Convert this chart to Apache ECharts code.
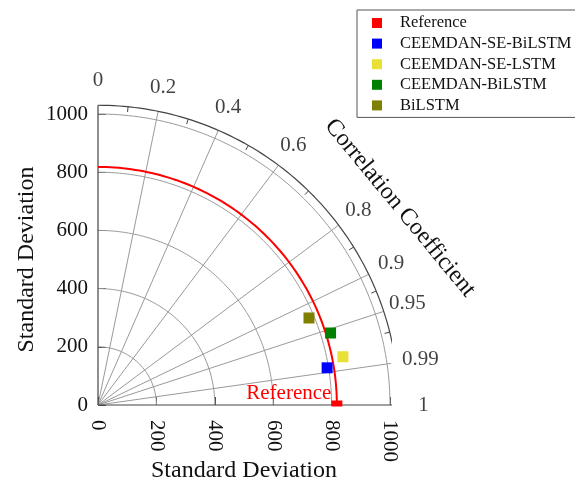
<!DOCTYPE html>
<html>
<head>
<meta charset="utf-8">
<title>Taylor diagram</title>
<script src="https://cdn.jsdelivr.net/npm/echarts@6/dist/echarts.min.js"></script>
<style>
  html, body { margin: 0; padding: 0; background: #fff; }
  #chart { width: 575px; height: 481px; }
</style>
</head>
<body>
<div id="chart"></div>
<script>
// model results
const modelNames = ['Reference', 'CEEMDAN-SE-BiLSTM', 'CEEMDAN-SE-LSTM', 'CEEMDAN-BiLSTM', 'BiLSTM']
const stdDevs = [818, 795, 855, 834, 782]
const corrCoefs = [1, 0.987, 0.981, 0.955, 0.924]
const modelColors = ['#ff0000', '#0000ff', '#e8e034', '#008000', '#808000']

// axes
const stdTicks = [200, 400, 600, 800, 1000]
const corrLabels = [0, 0.2, 0.4, 0.6, 0.8, 0.9, 0.95, 0.99, 1]
const corrGrid = [0.2, 0.4, 0.6, 0.8, 0.9, 0.95, 0.99]
const corrMinor = [0.1, 0.3, 0.5, 0.7, 0.85, 0.925, 0.97, 0.995]

const outerR = 1030
const labelR = 1115
const font = 'Liberation Serif'

function polar(std, r) {
  return [std * r, std * Math.sqrt(Math.max(0, 1 - r * r))]
}

function arc(std) {
  const pts = []
  for (let a = 0; a <= 90; a += 1) {
    const t = a * Math.PI / 180
    pts.push([std * Math.cos(t), std * Math.sin(t)])
  }
  return pts
}

function lineSeries(data, color, width) {
  return {
    type: 'line',
    data: data,
    symbol: 'none',
    silent: true,
    clip: false,
    animation: false,
    lineStyle: { color: color, width: width || 1 },
    z: 1
  }
}

const series = []

// standard deviation arcs
stdTicks.forEach(s => series.push(lineSeries(arc(s), '#9a9a9a', 1)))
// correlation rays
corrGrid.forEach(c => series.push(lineSeries([[0, 0], polar(outerR, c)], '#9a9a9a', 1)))
// minor ticks on the outer arc
corrMinor.forEach(c => series.push(lineSeries([polar(outerR, c), polar(outerR - 18, c)], '#444', 1)))
// frame
series.push(lineSeries(arc(outerR), '#444', 1.2))
series.push(lineSeries([[0, 0], [0, outerR]], '#444', 1.2))
series.push(lineSeries([[0, 0], [outerR, 0]], '#444', 1.2))
// reference std arc
series.push(lineSeries(arc(stdDevs[0]), '#ff0000', 2))

// models
modelNames.forEach((name, i) => {
  const isRef = i === 0
  series.push({
    name: name,
    type: 'scatter',
    clip: false,
    animation: false,
    symbol: 'rect',
    symbolSize: isRef ? [11, 6] : 11,
    symbolOffset: isRef ? [0, -1.5] : [0, 0],
    itemStyle: { color: modelColors[i], opacity: 1 },
    label: isRef ? {
      show: true,
      formatter: 'Reference',
      position: 'left',
      distance: 0,
      offset: [0, -10],
      color: '#ff0000',
      fontFamily: font,
      fontSize: 21
    } : { show: false },
    data: [polar(stdDevs[i], corrCoefs[i])],
    z: 5
  })
})

// correlation tick labels
series.push({
  type: 'scatter',
  silent: true,
  clip: false,
  animation: false,
  symbolSize: 0,
  data: corrLabels.map(c => ({ value: polar(labelR, c), name: String(c) })),
  label: {
    show: true,
    position: 'inside',
    formatter: p => p.name,
    color: '#111',
    fontFamily: font,
    fontSize: 21
  }
})

const chart = echarts.init(document.getElementById('chart'))
chart.setOption({
  backgroundColor: '#fff',
  animation: false,
  grid: { left: 98, top: 114, width: 292, height: 291, containLabel: false, outerBoundsMode: 'none' },
  legend: {
    orient: 'vertical',
    left: 357,
    top: 10,
    data: modelNames.map(n => ({ name: n, icon: 'rect' })),
    itemWidth: 10,
    itemHeight: 10,
    itemGap: 0.6,
    padding: [3, 12, 2, 15],
    borderColor: '#555',
    borderWidth: 1,
    selectedMode: false,
    itemStyle: { opacity: 1 },
    textStyle: {
      fontFamily: font,
      fontSize: 16.5,
      color: '#111',
      lineHeight: 20,
      padding: [0, 0, 0, 13]
    }
  },
  xAxis: {
    type: 'value',
    min: 0,
    max: 1000,
    interval: 200,
    name: 'Standard Deviation',
    nameLocation: 'middle',
    nameGap: 54,
    nameMoveOverlap: false,
    nameTextStyle: { fontFamily: font, fontSize: 24, color: '#111' },
    axisLine: { show: false },
    axisTick: { show: true, inside: true, length: 8, lineStyle: { color: '#444' } },
    splitLine: { show: false },
    axisLabel: { rotate: -90, margin: 15, fontFamily: font, fontSize: 21, color: '#111', formatter: v => String(v) }
  },
  yAxis: {
    type: 'value',
    min: 0,
    max: 1000,
    interval: 200,
    name: 'Standard Deviation',
    nameLocation: 'middle',
    nameGap: 59,
    nameMoveOverlap: false,
    nameTextStyle: { fontFamily: font, fontSize: 24, color: '#111' },
    axisLine: { show: false },
    axisTick: { show: true, inside: true, length: 8, lineStyle: { color: '#444' } },
    splitLine: { show: false },
    axisLabel: { margin: 10, fontFamily: font, fontSize: 21, color: '#111', formatter: v => String(v) }
  },
  graphic: [{
    type: 'text',
    x: 400,
    y: 208,
    rotation: -50.5 * Math.PI / 180,
    style: {
      text: 'Correlation Coefficient',
      fontFamily: font,
      fontSize: 24,
      fill: '#111',
      align: 'center',
      verticalAlign: 'middle'
    }
  }],
  series: series
})
</script>
</body>
</html>
